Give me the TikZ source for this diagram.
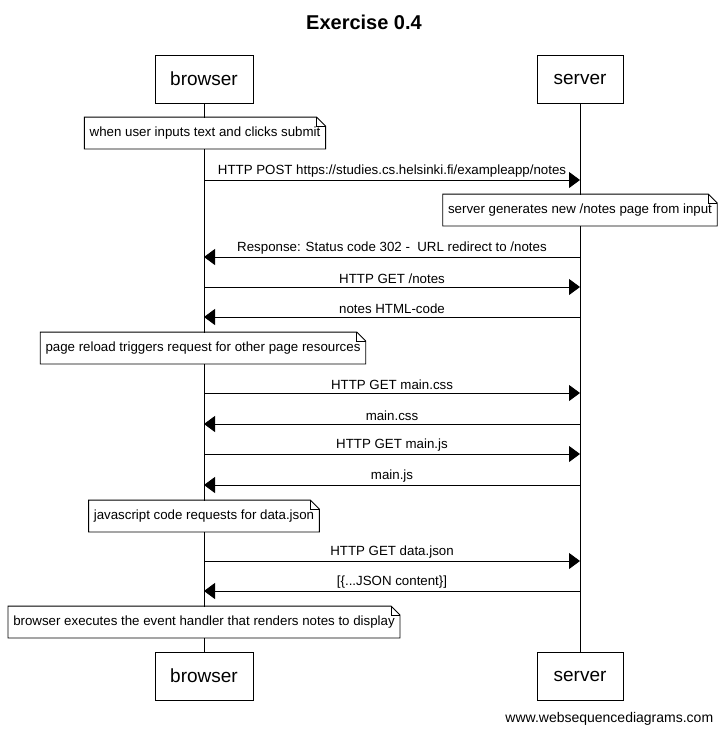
\documentclass[tikz,border=0pt]{standalone}
\usepackage{fontspec}
\setmainfont{Liberation Sans}
\usetikzlibrary{arrows.meta}

% dog-eared outline round a note node
\newcommand{\fold}[1]{%
  \draw (#1.north west) -- ([xshift=-9pt]#1.north east) -- ([yshift=-9pt]#1.north east)
    -- (#1.south east) -- (#1.south west) -- cycle;
  \draw ([xshift=-9pt]#1.north east) |- ([yshift=-9pt]#1.north east);
}

\begin{document}
\begin{tikzpicture}[x=1pt, y=-1pt, line width=0.9pt,
    actor/.style={draw, fill=white, minimum height=48pt,
      font=\fontsize{19}{22}\selectfont},
    note/.style={fill=white, minimum height=31pt, inner xsep=4.8pt,
      font=\fontsize{13.3}{16}\selectfont},
    msg/.style={-{Triangle[length=11pt, width=16pt]}},
    lbl/.style={above, inner sep=2.5pt, font=\fontsize{13.3}{16}\selectfont}]
  \useasboundingbox (0,0) rectangle (725,734);

  % Tittel
  \node[font=\bfseries\fontsize{20}{24}\selectfont] (title) at (364,22) {Exercise 0.4};

  % Aktorer
  \node[actor, minimum width=98pt] (browser) at (204,79) {browser};
  \node[actor, minimum width=86pt] (server) at (580,79) {server};
  \node[actor, minimum width=98pt] (browserB) at (204,676) {browser};
  \node[actor, minimum width=86pt] (serverB) at (580,676) {server};

  % Livslinjer
  \draw (browser) -- (browserB);
  \draw (server) -- (serverB);

  % Innsending av skjema
  \node[note] (n1) at (205,133) {when user inputs text and clicks submit};
  \fold{n1}
  \draw[msg] (browser |- 0,180) -- (server |- 0,180)
    node[lbl, midway] {HTTP POST https://studies.cs.helsinki.fi/exampleapp/notes};
  \node[note] (n2) at (580,210) {server generates new /notes page from input};
  \fold{n2}
  \draw[msg] (server |- 0,257) -- (browser |- 0,257)
    node[lbl, midway] {Response: Status code 302 -\ \ URL redirect to /notes};
  \draw[msg] (browser |- 0,287) -- (server |- 0,287)
    node[lbl, midway] {HTTP GET /notes};
  \draw[msg] (server |- 0,317) -- (browser |- 0,317)
    node[lbl, midway] {notes HTML-code};

  % Ressurser for siden
  \node[note] (n3) at (203,348) {page reload triggers request for other page resources};
  \fold{n3}
  \draw[msg] (browser |- 0,393) -- (server |- 0,393)
    node[lbl, midway] {HTTP GET main.css};
  \draw[msg] (server |- 0,424) -- (browser |- 0,424)
    node[lbl, midway] {main.css};
  \draw[msg] (browser |- 0,454) -- (server |- 0,454)
    node[lbl, midway] {HTTP GET main.js};
  \draw[msg] (server |- 0,485) -- (browser |- 0,485)
    node[lbl, midway] {main.js};

  % Data
  \node[note] (n4) at (204,516) {javascript code requests for data.json};
  \fold{n4}
  \draw[msg] (browser |- 0,561) -- (server |- 0,561)
    node[lbl, midway] {HTTP GET data.json};
  \draw[msg] (server |- 0,591) -- (browser |- 0,591)
    node[lbl, midway] {[\{...JSON content\}]};
  \node[note] (n5) at (204,622) {browser executes the event handler that renders notes to display};
  \fold{n5}

  % Vannmerke
  \node[anchor=east, font=\fontsize{14}{16}\selectfont] (mark) at (717,719) {www.websequencediagrams.com};
\end{tikzpicture}
\end{document}
